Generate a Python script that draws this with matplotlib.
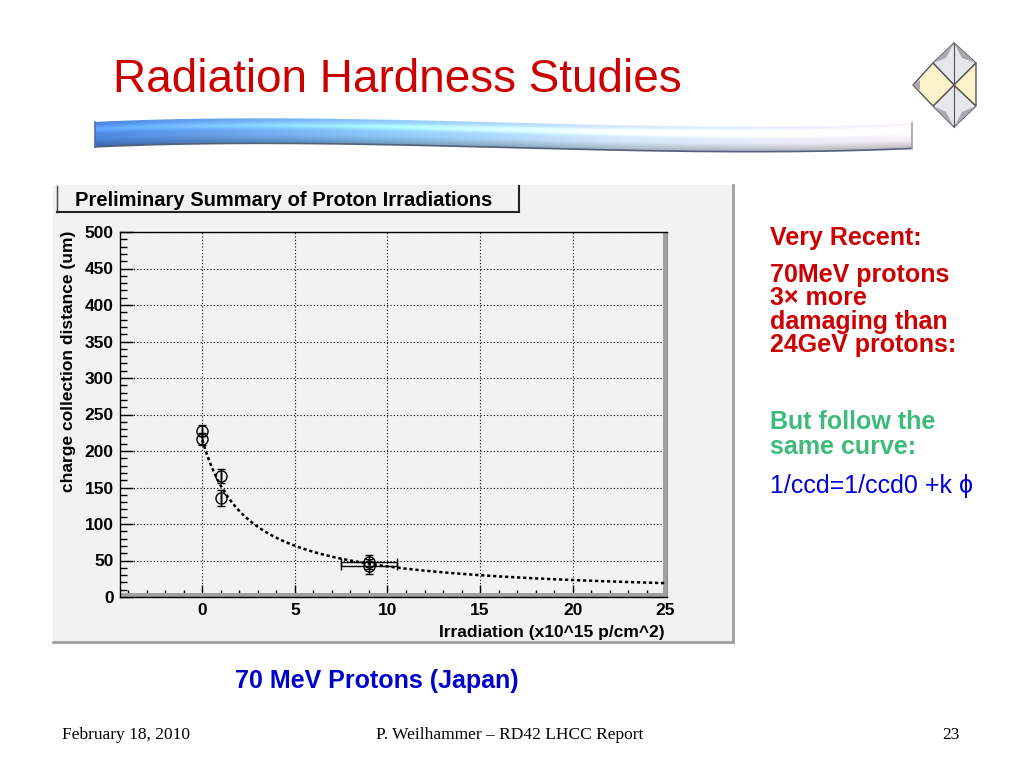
import numpy as np
import matplotlib
matplotlib.use('Agg')
import matplotlib.pyplot as plt
from matplotlib.patches import Rectangle, Polygon
from matplotlib.ticker import MultipleLocator

plt.rcParams['font.family'] = ['Liberation Sans', 'DejaVu Sans']

# ---------------- data ----------------
phi_data = [0.0, 0.0, 1.0, 1.0, 9.0, 9.0]          # x10^15 p/cm^2
ccd_data = [228, 216, 166, 136, 48, 42]             # um
ccd_err = [8, 8, 10, 11, 9, 10]
phi_err = [0.0, 0.0, 0.0, 0.0, 1.5, 1.5]
# fit parameters of the black curve ccd = ccd0/[1+k*phi*ccd0]
CCD0 = 215.0
K_FIT = 0.00192
PHI_MIN, PHI_MAX = 0.0, 25.0
x_ticks = [0, 5, 10, 15, 20, 25]
y_ticks = [0, 50, 100, 150, 200, 250, 300, 350, 400, 450, 500]

title = "Radiation Hardness Studies"
plot_title = "Preliminary Summary of Proton Irradiations"
xlabel = "Irradiation (x10^15 p/cm^2)"
ylabel = "charge collection distance (um)"
notes = ["Black data: pCVD strip detector",
         "Black data: +HV(lower) and -HV(upper)",
         "Black curve: ccd=ccd0/[1+k*phi*ccd0]"]
red_lines = ["Very Recent:", "70MeV protons", "3\u00d7 more", "damaging than", "24GeV protons:"]
green_lines = ["But follow the", "same curve:"]
blue_line = "1/ccd=1/ccd0 +k \u03d5"
caption = "70 MeV Protons (Japan)"
footer_left = "February 18, 2010"
footer_mid = "P. Weilhammer \u2013 RD42 LHCC Report"
footer_right = "23"

# ---------------- figure ----------------
fig = plt.figure(figsize=(10.24, 7.68), dpi=100)
bg = fig.add_axes([0, 0, 1, 1])
bg.set_xlim(0, 1024)
bg.set_ylim(768, 0)
bg.axis('off')

# slide title
bg.text(113, 80, title, color='#cc0000', fontsize=33, ha='left', va='center')

# wavy blue tube under the title
xs = np.linspace(95, 912, 400)
cpx = [95, 250, 450, 650, 912]
cpy = [134.5, 130.5, 134, 138, 136]
coef = np.polyfit(cpx, cpy, 3)
yc = np.polyval(coef, xs)
half = 12.5
poly_pts = np.concatenate([np.column_stack([xs, yc - half]),
                           np.column_stack([xs[::-1], (yc + half)[::-1]])])
tube = Polygon(poly_pts, closed=True, fc='none', ec='none')
bg.add_patch(tube)
H, W = 60, 400
gx = np.linspace(0, 1, W)
stops = [0.0, 0.35, 0.65, 1.0]
cols = np.array([[0.30, 0.53, 0.88], [0.55, 0.79, 0.98], [0.84, 0.91, 0.98], [0.97, 0.94, 0.97]])
hcol = np.stack([np.interp(gx, stops, cols[:, i]) for i in range(3)], axis=1)
yy = np.linspace(112, 158, H)
img = np.zeros((H, W, 3))
for j in range(W):
    v = (yy - yc[j]) / half
    shade = 1.0 + 0.25 * np.exp(-((v + 0.45) / 0.25) ** 2) - 0.35 * np.clip(v - 0.3, 0, None)
    img[:, j, :] = np.clip(hcol[j][None, :] * shade[:, None], 0, 1)
im = bg.imshow(img, extent=(95, 912, 158, 112), aspect='auto', interpolation='bilinear', zorder=2)
im.set_clip_path(tube)
bg.plot(xs, yc + half, color='#55607a', lw=1.2, zorder=3)
bg.plot([95, 95], [yc[0] - half, yc[0] + half], color='#4a6fa8', lw=1.2, zorder=3)
bg.plot([912, 912], [yc[-1] - half, yc[-1] + half], color='#9aa0b0', lw=1.2, zorder=3)

# logo (octahedron) top right
ec = '#555555'
bg.add_patch(Polygon([(933, 63), (954, 43), (976, 63), (954, 85)], fc='#e6e6ec', ec=ec, lw=1, zorder=3))
bg.add_patch(Polygon([(933, 106), (954, 85), (976, 106), (954, 127)], fc='#e6e6ec', ec=ec, lw=1, zorder=3))
bg.add_patch(Polygon([(913, 85), (933, 63), (954, 85), (933, 106)], fc='#fbf2c9', ec=ec, lw=1, zorder=3))
bg.add_patch(Polygon([(954, 85), (976, 63), (976, 106)], fc='#fbf2c9', ec=ec, lw=1, zorder=3))
bg.add_patch(Polygon([(954, 43), (933, 63), (946, 58)], fc='#a9a9b0', ec='none', zorder=4))
bg.add_patch(Polygon([(954, 43), (976, 63), (962, 58)], fc='#a9a9b0', ec='none', zorder=4))
bg.add_patch(Polygon([(954, 127), (933, 106), (946, 112)], fc='#a9a9b0', ec='none', zorder=4))
bg.add_patch(Polygon([(954, 127), (976, 106), (962, 112)], fc='#a9a9b0', ec='none', zorder=4))
bg.add_patch(Polygon([(913, 85), (920, 80), (920, 90)], fc='#a9a9b0', ec='none', zorder=4))
bg.plot([954, 954], [43, 127], color=ec, lw=0.8, zorder=4)

# ROOT canvas
bg.add_patch(Rectangle((53, 185), 680, 457, fc='#f2f2f2', ec='none', zorder=1))
bg.plot([733, 733], [185, 642], color='#a0a0a0', lw=2, zorder=2)
bg.plot([53, 733], [642, 642], color='#a0a0a0', lw=2, zorder=2)
# title box
bg.plot([57, 57], [186, 212], color='#444444', lw=1, zorder=2)
bg.plot([57, 519], [212, 212], color='#222222', lw=1.5, zorder=2)
bg.plot([519, 519], [186, 212], color='#222222', lw=1.5, zorder=2)
bg.text(75, 200, plot_title, fontsize=14.5, fontweight='bold', ha='left', va='center', zorder=3)

# axis titles
bg.text(69, 231, ylabel, rotation=90, fontsize=12.5, fontweight='bold', ha='center', va='top', zorder=3)
bg.text(665, 632, xlabel, fontsize=12.5, fontweight='bold', ha='right', va='center', zorder=3)

# ---------------- plot frame ----------------
ax = fig.add_axes([120 / 1024, 1 - 597 / 768, 547 / 1024, 365 / 768], facecolor='#f2f2f2')
ax.set_xlim(-4.45, 25.1)
ax.set_ylim(0, 500)
ax.set_axisbelow(True)
ax.grid(which='major', color='black', linestyle=(0, (1, 2)), linewidth=0.8)
ax.add_patch(Rectangle((0, 0), 1, 4 / 365, transform=ax.transAxes, fc='#a0a0a0', ec='none', zorder=1.5))
ax.add_patch(Rectangle((1 - 4 / 547, 0), 4 / 547, 1, transform=ax.transAxes, fc='#a0a0a0', ec='none', zorder=1.5))
for s in ['left', 'top', 'bottom']:
    ax.spines[s].set_color('black')
    ax.spines[s].set_linewidth(1)
ax.spines['right'].set_color('#909090')

ax.set_xticks(x_ticks)
ax.set_xticklabels([str(t) for t in x_ticks], fontweight='bold', fontsize=12.5)
ax.set_yticks(y_ticks)
ax.set_yticklabels([str(t) for t in y_ticks], fontweight='bold', fontsize=12.5)
ax.xaxis.set_minor_locator(MultipleLocator(1))
ax.yaxis.set_minor_locator(MultipleLocator(10))
ax.tick_params(which='both', direction='in', top=False, right=False, color='black', width=1)
ax.tick_params(which='major', length=9)
ax.tick_params(which='minor', length=5)
ax.tick_params(axis='x', pad=4)
ax.tick_params(axis='y', pad=4.5)

phi_curve = np.linspace(PHI_MIN, PHI_MAX, 300)
ccd_curve = CCD0 / (1 + K_FIT * phi_curve * CCD0)
ax.plot(phi_curve, ccd_curve, color='black', lw=1.8, linestyle=(0, (1.3, 1.1)), zorder=2)

ax.errorbar(phi_data, ccd_data, yerr=ccd_err, xerr=phi_err, fmt='o', ms=8,
            mfc='none', mec='black', mew=1, ecolor='black', elinewidth=1,
            capsize=3, capthick=1, zorder=3)

# annotations inside plot (figure pixel coords)
for i, t in enumerate(notes):
    bg.text(313, 363 + 30 * i, t, fontsize=12.5, fontweight='bold', ha='left', va='center', zorder=5)

# right-hand text
bg.text(770, 238, red_lines[0], color='#cc0000', fontsize=18, fontweight='bold', ha='left', va='center')
for i, t in enumerate(red_lines[1:]):
    bg.text(770, 275 + 23.4 * i, t, color='#cc0000', fontsize=18, fontweight='bold', ha='left', va='center')
for i, t in enumerate(green_lines):
    bg.text(770, 422 + 25 * i, t, color='#3dbb7a', fontsize=18, fontweight='bold', ha='left', va='center')
bg.text(770, 486, blue_line, color='#0000dd', fontsize=18, ha='left', va='center')

# caption
bg.text(377, 681, caption, color='#0000cc', fontsize=18, fontweight='bold', ha='center', va='center')

# footer
bg.text(62, 735, footer_left, family='Liberation Serif', fontsize=12.5, ha='left', va='center')
bg.text(510, 735, footer_mid, family='Liberation Serif', fontsize=12.5, ha='center', va='center')
bg.text(960, 735, footer_right, family='Liberation Serif', fontsize=12.5, ha='right', va='center')

fig.savefig('out.png', dpi=100)
